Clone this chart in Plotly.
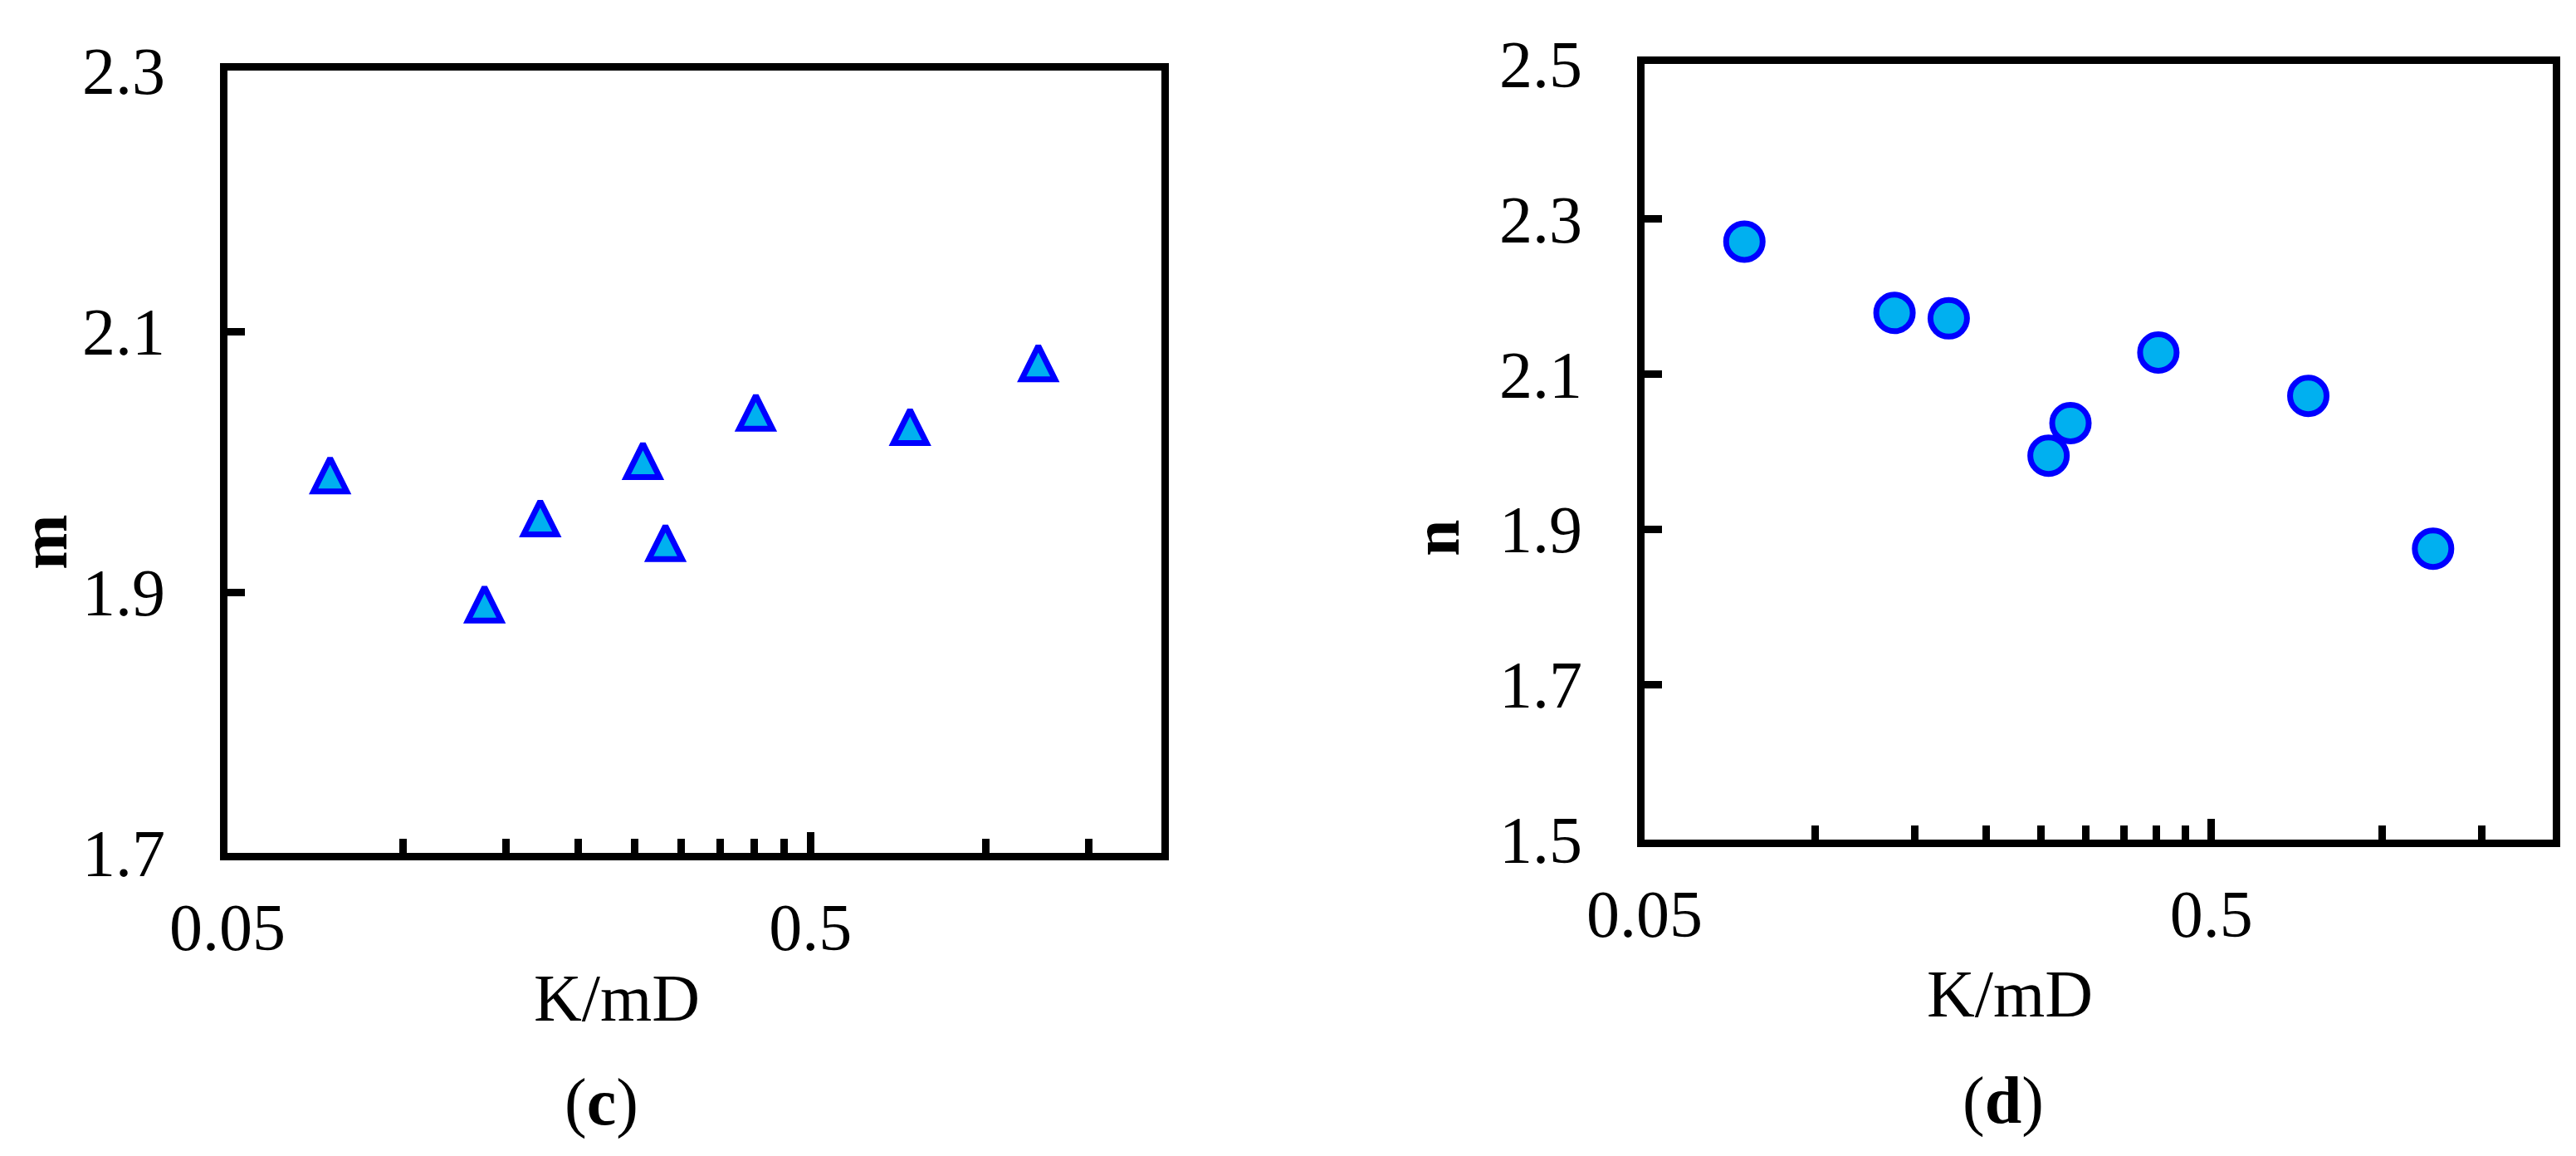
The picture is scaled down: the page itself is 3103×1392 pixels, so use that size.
import math

import plotly.graph_objects as go

# permeability (shared by both panels)
K_MD = [0.075, 0.138, 0.172, 0.258, 0.282, 0.403, 0.741, 1.23]
M_VALUES = [1.990, 1.891, 1.957, 2.001, 1.938, 2.038, 2.027, 2.076]
N_VALUES = [2.271, 2.179, 2.172, 1.995, 2.037, 2.128, 2.072, 1.875]

X_MAJOR = [0.05, 0.5]
X_MAJOR_TEXT = ["0.05", "0.5"]
X_MINOR = [0.1, 0.15, 0.2, 0.25, 0.3, 0.35, 0.4, 0.45, 1.0, 1.5]
M_TICKS = [1.7, 1.9, 2.1, 2.3]
N_TICKS = [1.5, 1.7, 1.9, 2.1, 2.3, 2.5]

W, H = 3103, 1392
FONT = "Liberation Serif, Times New Roman, serif"
FILL = "#00B0F0"
EDGE = "#0000FF"


def px_x(p):
    return p / W


def px_y(p):
    return 1 - p / H


def x_axis(domain, anchor):
    return dict(
        type="log", domain=domain, anchor=anchor, automargin=False,
        range=[math.log10(0.05), math.log10(2.0)],
        tickmode="array", tickvals=X_MAJOR, ticktext=X_MAJOR_TEXT,
        ticks="inside", ticklen=25, tickwidth=9, tickcolor="black",
        minor=dict(tickmode="array", tickvals=X_MINOR, ticks="inside",
                   ticklen=17, tickwidth=9, tickcolor="black", showgrid=False),
        showline=True, linewidth=9, linecolor="black", mirror=True,
        showgrid=False, zeroline=False,
        tickfont=dict(family=FONT, size=80, color="black"),
        ticklabelstandoff=12,
    )


def y_axis(domain, anchor, rng, vals):
    return dict(
        domain=domain, anchor=anchor, range=rng, automargin=False,
        tickmode="array", tickvals=vals, ticktext=[f"{v:.1f}" for v in vals],
        ticks="inside", ticklen=21, tickwidth=9, tickcolor="black",
        showline=True, linewidth=9, linecolor="black", mirror=True,
        showgrid=False, zeroline=False,
        tickfont=dict(family=FONT, size=80, color="black"),
        ticklabelstandoff=50,
    )


fig = go.Figure()
fig.add_trace(go.Scatter(
    x=K_MD, y=M_VALUES, mode="markers", xaxis="x", yaxis="y",
    marker=dict(symbol="arrow-down", angle=180, standoff=20, size=40,
                color=FILL, line=dict(color=EDGE, width=7)),
    showlegend=False, cliponaxis=False,
))
fig.add_trace(go.Scatter(
    x=K_MD, y=N_VALUES, mode="markers", xaxis="x2", yaxis="y2",
    marker=dict(symbol="circle", size=44, color=FILL,
                line=dict(color=EDGE, width=7)),
    showlegend=False, cliponaxis=False,
))

annotations = [
    dict(text="K/mD", x=px_x(735), y=px_y(1194)),
    dict(text="K/mD", x=px_x(2413), y=px_y(1189)),
    dict(text="(<b>c</b>)", x=px_x(716), y=px_y(1319)),
    dict(text="(<b>d</b>)", x=px_x(2405), y=px_y(1317)),
    dict(text="<b>m</b>", x=px_x(45), y=px_y(645), textangle=-90),
    dict(text="<b>n</b>", x=px_x(1722), y=px_y(640), textangle=-90),
]
for a in annotations:
    a.update(xref="paper", yref="paper", showarrow=False,
             xanchor="center", yanchor="middle",
             font=dict(family=FONT, size=80, color="black"))

fig.update_layout(
    width=W, height=H,
    margin=dict(l=0, r=0, t=0, b=0, autoexpand=False),
    paper_bgcolor="white", plot_bgcolor="white",
    xaxis=x_axis([px_x(266), px_x(1391)], "y"),
    yaxis=y_axis([px_y(1019), px_y(77)], "x", [1.7, 2.3], M_TICKS),
    xaxis2=x_axis([px_x(1973), px_x(3067)], "y2"),
    yaxis2=y_axis([px_y(1003), px_y(69)], "x2", [1.5, 2.5], N_TICKS),
    annotations=annotations,
)

fig.write_html("out.html")
